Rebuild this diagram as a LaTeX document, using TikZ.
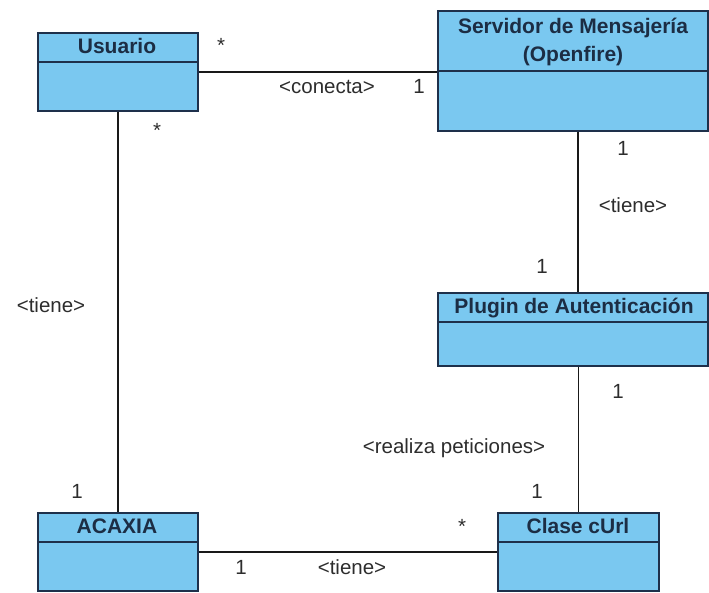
\documentclass[tikz,border=0pt]{standalone}
\usepackage{fontspec}
\setmainfont{Liberation Sans}
\definecolor{clsfill}{RGB}{122,200,240}
\definecolor{clsdraw}{RGB}{30,48,75}
\definecolor{clstext}{RGB}{28,45,68}
\definecolor{lbltext}{RGB}{45,45,45}
\begin{document}
\begin{tikzpicture}[x=1pt,y=-1pt,
  cls/.style={draw=clsdraw,line width=1.6pt,fill=clsfill,anchor=north west,inner sep=0pt},
  ttl/.style={anchor=base,font=\fontsize{21}{28}\selectfont\bfseries,text=clstext,inner sep=0pt,align=center},
  lbl/.style={anchor=base,font=\fontsize{20.5}{24}\selectfont,text=lbltext,inner sep=0pt},
  div/.style={draw=clsdraw,line width=1.6pt},
  conn/.style={draw=black!90,line width=1.6pt}]
\useasboundingbox (0,0) rectangle (709,592);
% classes
\node[cls,minimum width=160pt,minimum height=78pt] (usuario) at (37,32) {};
\draw[div] (37,62) -- (197,62);
\node[ttl] (usuario-t) at (117,53) {Usuario};

\node[cls,minimum width=270pt,minimum height=120pt] (servidor) at (437,10) {};
\draw[div] (437,71) -- (707,71);
\node[ttl] (servidor-t1) at (573,33) {Servidor de Mensajería};
\node[ttl] (servidor-t2) at (573,61) {(Openfire)};

\node[cls,minimum width=270pt,minimum height=73pt] (plugin) at (437,292) {};
\draw[div] (437,322) -- (707,322);
\node[ttl] (plugin-t) at (574,313) {Plugin de Autenticación};

\node[cls,minimum width=160pt,minimum height=78pt] (acaxia) at (37,512) {};
\draw[div] (37,542) -- (197,542);
\node[ttl] (acaxia-t) at (117,533) {ACAXIA};

\node[cls,minimum width=161pt,minimum height=78pt] (clase) at (497,512) {};
\draw[div] (497,542) -- (658,542);
\node[ttl] (clase-t) at (578,533) {Clase cUrl};

% connectors
\draw[conn] (usuario.east) -- (usuario.east -| servidor.west);
\draw[conn] (usuario.south) -- (acaxia.north);
\draw[conn] ([xshift=5pt]servidor.south) -- ([xshift=5pt]servidor.south |- plugin.north);
\draw[conn] (clase.north) -- (clase.north |- plugin.south);
\draw[conn] (acaxia.east) -- (clase.west);

% labels
\node[lbl] (m1) at (221,52) {*};
\node[lbl] (l1) at (327,93) {<conecta>};
\node[lbl] (m2) at (419,93) {1};
\node[lbl] (m3) at (157,137) {*};
\node[lbl] (m4) at (623,155) {1};
\node[lbl] (l2) at (633,212) {<tiene>};
\node[lbl] (m5) at (542,273) {1};
\node[lbl] (l3) at (51,312) {<tiene>};
\node[lbl] (m6) at (618,398) {1};
\node[lbl] (l4) at (454,453) {<realiza peticiones>};
\node[lbl] (m7) at (537,498) {1};
\node[lbl] (m8) at (77,498) {1};
\node[lbl] (m9) at (462,533) {*};
\node[lbl] (m10) at (241,574) {1};
\node[lbl] (l5) at (352,574) {<tiene>};
\end{tikzpicture}
\end{document}
